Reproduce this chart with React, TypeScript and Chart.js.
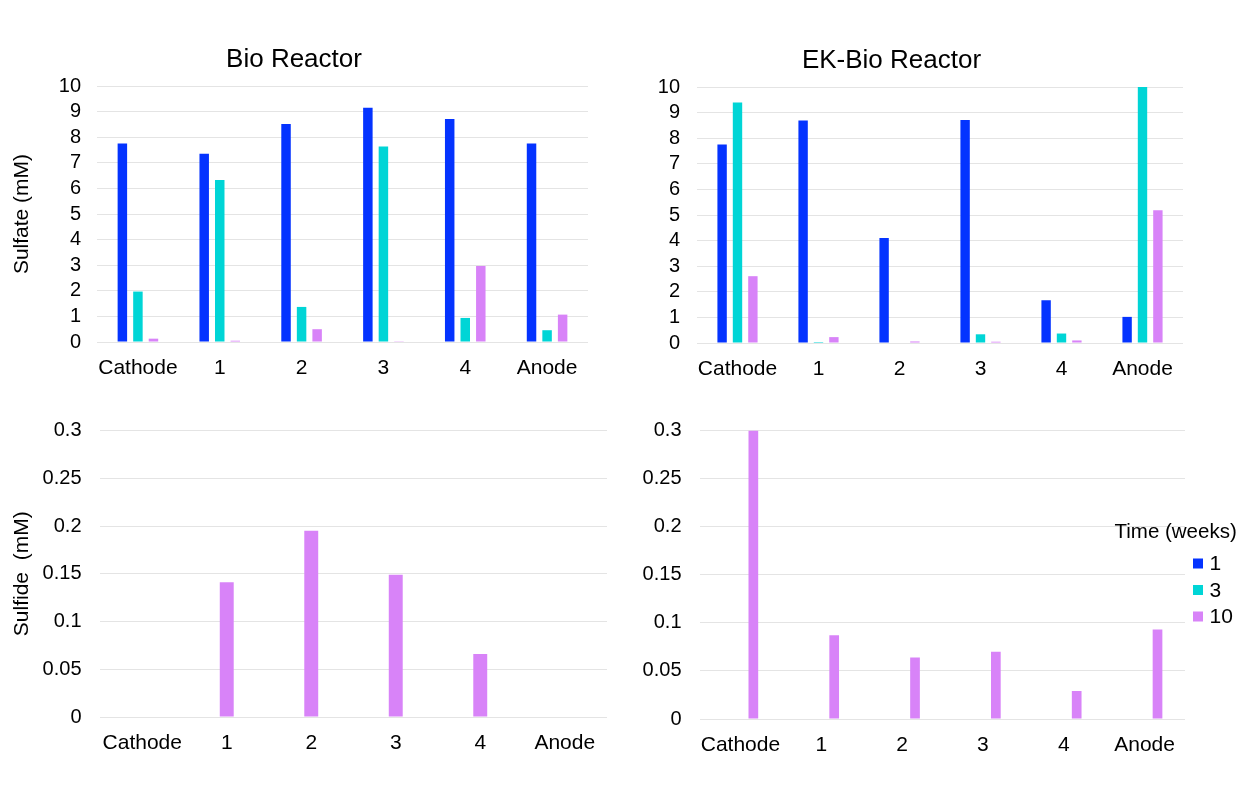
import React, { useEffect, useRef } from 'react';
import { Chart, registerables } from 'chart.js';

Chart.register(...registerables);
Chart.defaults.font.family = '"Liberation Sans", Arial, Helvetica, sans-serif';
Chart.defaults.color = '#000';

// ---------- data ----------
const categories = ['Cathode', '1', '2', '3', '4', 'Anode'];
const weekLabels = ['1', '3', '10'];
const legendTitle = 'Time (weeks)';
const seriesColors = ['#0433FF', '#00D5D6', '#D883F8'];

// Bio Reactor, sulfate (mM)
const bioSulfateWeek1 = [7.75, 7.35, 8.52, 9.15, 8.71, 7.75];
const bioSulfateWeek3 = [1.97, 6.33, 1.37, 7.64, 0.94, 0.46];
const bioSulfateWeek10 = [0.13, 0.05, 0.5, 0.03, 2.97, 1.07];

// EK-Bio Reactor, sulfate (mM)
const ekSulfateWeek1 = [7.75, 8.69, 4.1, 8.71, 1.67, 1.02];
const ekSulfateWeek3 = [9.39, 0.04, 0, 0.34, 0.37, 10.0];
const ekSulfateWeek10 = [2.61, 0.23, 0.06, 0.05, 0.1, 5.19];

// Bio Reactor, sulfide (mM)
const bioSulfideWeek10 = [0, 0.141, 0.195, 0.149, 0.066, 0];

// EK-Bio Reactor, sulfide (mM)
const ekSulfideWeek1 = [0, 0, 0, 0, 0, 0];
const ekSulfideWeek3 = [0, 0, 0, 0, 0, 0];
const ekSulfideWeek10 = [0.3, 0.087, 0.064, 0.07, 0.029, 0.093];

const sulfateMax = 10;
const sulfateStep = 1;
const sulfideMax = 0.3;
const sulfideStep = 0.05;

// ---------- layout ----------
type Panel = {
  key: string;
  left: number; top: number; width: number; height: number;
  plotLeft: number; plotTop: number; plotRight: number; plotBottom: number;
  title?: string; titleCenterY?: number;
  yTitle?: string;
  yMax: number; yStep: number; yPad: number;
  datasets: { label: string; data: number[]; color: string }[];
  catPct: number; barPct: number;
  legend?: boolean;
};

const panels: Panel[] = [
  {
    key: 'tl', left: 0, top: 30, width: 600, height: 370,
    plotLeft: 97, plotTop: 86, plotRight: 588, plotBottom: 342,
    title: 'Bio Reactor', titleCenterY: 59.5, yTitle: 'Sulfate (mM)',
    yMax: sulfateMax, yStep: sulfateStep, yPad: 16,
    datasets: [
      { label: weekLabels[0], data: bioSulfateWeek1, color: seriesColors[0] },
      { label: weekLabels[1], data: bioSulfateWeek3, color: seriesColors[1] },
      { label: weekLabels[2], data: bioSulfateWeek10, color: seriesColors[2] },
    ],
    catPct: 0.57, barPct: 0.61,
  },
  {
    key: 'tr', left: 600, top: 30, width: 600, height: 370,
    plotLeft: 697, plotTop: 87, plotRight: 1183, plotBottom: 343,
    title: 'EK-Bio Reactor', titleCenterY: 60.5,
    yMax: sulfateMax, yStep: sulfateStep, yPad: 17,
    datasets: [
      { label: weekLabels[0], data: ekSulfateWeek1, color: seriesColors[0] },
      { label: weekLabels[1], data: ekSulfateWeek3, color: seriesColors[1] },
      { label: weekLabels[2], data: ekSulfateWeek10, color: seriesColors[2] },
    ],
    catPct: 0.57, barPct: 0.61,
  },
  {
    key: 'bl', left: 0, top: 400, width: 615, height: 370,
    plotLeft: 100, plotTop: 427, plotRight: 607, plotBottom: 717,
    yTitle: 'Sulfide  (mM)',
    yMax: sulfideMax, yStep: sulfideStep, yPad: 18.5,
    datasets: [
      { label: weekLabels[2], data: bioSulfideWeek10, color: seriesColors[2] },
    ],
    catPct: 0.5, barPct: 0.33,
  },
  {
    key: 'br', left: 600, top: 400, width: 645, height: 370,
    plotLeft: 700, plotTop: 427, plotRight: 1185, plotBottom: 719,
    yMax: sulfideMax, yStep: sulfideStep, yPad: 18.5,
    datasets: [
      { label: weekLabels[0], data: ekSulfideWeek1, color: seriesColors[0] },
      { label: weekLabels[1], data: ekSulfideWeek3, color: seriesColors[1] },
      { label: weekLabels[2], data: ekSulfideWeek10, color: seriesColors[2] },
    ],
    catPct: 0.48, barPct: 0.75,
    legend: true,
  },
];

const timeLegendPlugin = {
  id: 'timeLegend',
  afterDraw(chart: any, _args: any, opts: any) {
    if (!opts || !opts.show) return;
    const ctx = chart.ctx;
    ctx.save();
    ctx.textBaseline = 'middle';
    ctx.textAlign = 'left';
    ctx.fillStyle = '#000';
    ctx.font = '20.5px "Liberation Sans", Arial, Helvetica, sans-serif';
    ctx.fillText(opts.title, opts.titleX, opts.titleY);
    ctx.font = '21px "Liberation Sans", Arial, Helvetica, sans-serif';
    chart.data.datasets.forEach((ds: any, i: number) => {
      const y = opts.itemY + i * opts.itemGap;
      ctx.fillStyle = ds.backgroundColor;
      ctx.fillRect(opts.boxX, y - opts.boxSize / 2, opts.boxSize, opts.boxSize);
      ctx.fillStyle = '#000';
      ctx.fillText(ds.label, opts.textX, y + 1);
    });
    ctx.restore();
  },
};

const formatTick = (v: any) => String(Number(Number(v).toFixed(2)));

function ChartPanel({ p }: { p: Panel }) {
  const ref = useRef<HTMLCanvasElement | null>(null);
  useEffect(() => {
    if (!ref.current) return;
    const relTop = p.plotTop - p.top;
    const belowPlot = p.top + p.height - p.plotBottom;
    const rightPad = p.left + p.width - p.plotRight;
    const yAxisWidth = p.plotLeft - p.left;
    const titleLine = 26 * 1.2;
    const titlePadTop = p.title ? (p.titleCenterY as number) - p.top - titleLine / 2 : 0;
    const titlePadBottom = p.title ? relTop - titleLine - titlePadTop : 0;

    const chart = new Chart(ref.current, {
      type: 'bar',
      data: {
        labels: categories,
        datasets: p.datasets.map((d) => ({
          label: d.label,
          data: d.data,
          backgroundColor: d.color,
          borderWidth: 0,
          categoryPercentage: p.catPct,
          barPercentage: p.barPct,
        })),
      },
      options: {
        responsive: false,
        animation: false,
        layout: {
          padding: { left: 0, right: rightPad, top: p.title ? 0 : relTop, bottom: 0 },
        },
        plugins: {
          legend: { display: false },
          tooltip: { enabled: false },
          title: p.title
            ? {
                display: true,
                text: p.title,
                color: '#000',
                font: { size: 26, weight: 'normal', lineHeight: 1.2 },
                padding: { top: titlePadTop, bottom: titlePadBottom },
              }
            : { display: false },
          timeLegend: p.legend
            ? {
                show: true,
                title: legendTitle,
                titleX: 514.5,
                titleY: 132,
                boxX: 593,
                boxSize: 10,
                textX: 609.5,
                itemY: 163.5,
                itemGap: 26.5,
              }
            : { show: false },
        } as any,
        scales: {
          x: {
            grid: { display: false },
            border: { display: false },
            ticks: {
              color: '#000',
              font: { size: 21 },
              padding: 5.5,
              maxRotation: 0,
              autoSkip: false,
            },
            afterFit: (s: any) => {
              s.height = belowPlot;
            },
          },
          y: {
            min: 0,
            max: p.yMax,
            grid: { color: '#e4e4e4', lineWidth: 1, drawTicks: false },
            border: { display: false },
            ticks: {
              stepSize: p.yStep,
              autoSkip: false,
              color: '#000',
              font: { size: 20 },
              padding: p.yPad,
              callback: formatTick,
            },
            title: p.yTitle
              ? {
                  display: true,
                  text: p.yTitle,
                  color: '#000',
                  font: { size: 21, lineHeight: 1.2 },
                  padding: { top: 9.9, bottom: 0 },
                }
              : { display: false },
            afterFit: (s: any) => {
              s.width = yAxisWidth;
            },
          },
        },
      } as any,
      plugins: [timeLegendPlugin],
    });
    return () => chart.destroy();
  }, [p]);

  return (
    <canvas
      ref={ref}
      width={p.width}
      height={p.height}
      style={{ position: 'absolute', left: p.left, top: p.top, width: p.width, height: p.height }}
    />
  );
}

export default function App() {
  return (
    <div
      style={{
        position: 'absolute',
        left: 0,
        top: 0,
        width: 1245,
        height: 790,
        background: '#fff',
        overflow: 'hidden',
      }}
    >
      {panels.map((p) => (
        <ChartPanel key={p.key} p={p} />
      ))}
    </div>
  );
}
